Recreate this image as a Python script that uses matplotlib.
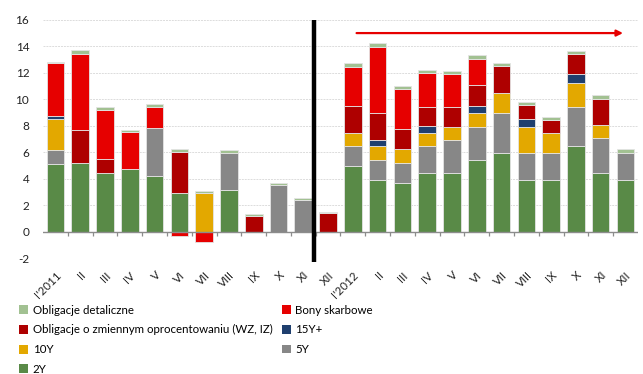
import numpy as np
import matplotlib
matplotlib.use("Agg")
import matplotlib.pyplot as plt
from matplotlib.patches import Patch

plt.rcParams['font.family'] = ['Lato', 'DejaVu Sans']

months = ["I'2011", "II", "III", "IV", "V", "VI", "VII", "VIII", "IX", "X", "XI", "XII",
          "I'2012", "II", "III", "IV", "V", "VI", "VII", "VIII", "IX", "X", "XI", "XII"]

# sales by instrument, bn PLN
y2 = [5.1, 5.2, 4.45, 4.75, 4.25, 2.95, 0, 3.17, 0, 0, 0, 0,
      4.95, 3.95, 3.72, 4.45, 4.45, 5.45, 5.95, 3.95, 3.95, 6.45, 4.45, 3.95]
y5 = [1.1, 0, 0, 0, 3.6, 0, 0, 2.82, 0, 3.57, 2.44, 0,
      1.5, 1.5, 1.5, 2.0, 2.5, 2.5, 3.0, 2.0, 2.0, 3.0, 2.6, 2.0]
y10 = [2.3, 0, 0, 0, 0, 0, 2.95, 0, 0, 0, 0, 0,
       1.03, 1.0, 1.03, 1.03, 1.0, 1.03, 1.53, 2.0, 1.53, 1.8, 1.0, 0]
y15 = [0.22, 0, 0, 0, 0, 0, 0, 0, 0, 0, 0, 0,
       0, 0.52, 0, 0.48, 0, 0.5, 0, 0.6, 0, 0.7, 0, 0]
floating = [0.05, 2.47, 1.03, 0, 0, 3.1, 0, 0, 1.21, 0, 0, 1.46,
            2.0, 1.97, 1.5, 1.5, 1.5, 1.6, 2.0, 1.0, 1.0, 1.5, 2.0, 0]
bills = [3.95, 5.78, 3.68, 2.82, 1.6, -0.3, -0.78, 0, 0, 0, 0, 0,
         2.97, 5.03, 3.04, 2.5, 2.45, 2.0, 0, 0, 0, 0, 0, 0]
retail = [0.12, 0.28, 0.25, 0.15, 0.2, 0.17, 0.15, 0.22, 0.15, 0.13, 0.13, 0.08,
          0.28, 0.25, 0.23, 0.26, 0.23, 0.25, 0.25, 0.25, 0.22, 0.23, 0.28, 0.27]

series = [
    ("2Y", y2, "#598A47"),
    ("5Y", y5, "#878787"),
    ("10Y", y10, "#E3A800"),
    ("15Y+", y15, "#1F3F6E"),
    ("Obligacje o zmiennym oprocentowaniu (WZ, IZ)", floating, "#AE0000"),
    ("Bony skarbowe", bills, "#E60000"),
    ("Obligacje detaliczne", retail, "#A2C192"),
]

fig = plt.figure(figsize=(6.43, 3.74), dpi=100)
ax = fig.add_axes([0.067, 0.309, 0.925, 0.638])

x = np.arange(len(months))
pos_base = np.zeros(len(months))
neg_base = np.zeros(len(months))
for name, vals, color in series:
    v = np.array(vals, dtype=float)
    bottom = np.where(v >= 0, pos_base, neg_base)
    ax.bar(x, v, bottom=bottom, width=0.71, color=color,
           edgecolor="#e4e4e4", linewidth=0.6, zorder=3)
    pos_base += np.where(v >= 0, v, 0)
    neg_base += np.where(v < 0, v, 0)

ax.set_xlim(-0.5, len(months) - 0.5)
ax.set_ylim(-2, 16)
ax.set_yticks(np.arange(-2, 17, 2))
ax.set_yticklabels([str(t) for t in range(-2, 17, 2)], fontsize=8.5, color="#222222")
ax.tick_params(axis="y", length=0, pad=10)
ax.yaxis.grid(True, color="#dcdcdc", linestyle=(0, (2, 1)), linewidth=0.7, zorder=0)
for s in ax.spines.values():
    s.set_visible(False)

ax.set_xticks(x)
ax.set_xticklabels(months, rotation=45, ha="right", rotation_mode="anchor",
                   fontsize=8.3, color="#222222")
ax.tick_params(axis="x", length=0, pad=8)

# zero line with category boundary ticks
ax.axhline(0, color="#8c8c8c", linewidth=1.0, zorder=4)
ax.vlines(np.arange(0.5, len(months) - 0.5, 1.0), -0.28, 0, color="#8c8c8c",
          linewidth=0.9, zorder=4)

# year separator
ax.plot([10.45, 10.45], [-2.25, 16], color="black", linewidth=3.2,
        solid_capstyle="butt", clip_on=False, zorder=5)

# trend arrow across 2012
ax.annotate("", xy=(22.9, 15.0), xytext=(12.15, 15.0),
            arrowprops=dict(arrowstyle="-|>", color="#E60000", lw=1.6,
                            mutation_scale=9, shrinkA=0, shrinkB=0), zorder=5)

legend_order = ["Obligacje detaliczne", "Obligacje o zmiennym oprocentowaniu (WZ, IZ)",
                "10Y", "2Y", "Bony skarbowe", "15Y+", "5Y"]
colors = {n: c for n, _, c in series}
handles = [Patch(facecolor=colors[n], edgecolor="none", label=n) for n in legend_order]
fig.legend(handles=handles, ncol=2, loc="upper left", bbox_to_anchor=(0.022, 0.198),
           frameon=False, fontsize=8.3, handlelength=0.8, handleheight=0.8,
           handletextpad=0.4, columnspacing=0.8, labelspacing=0.76, borderaxespad=0)

fig.savefig("out.png", dpi=100)
